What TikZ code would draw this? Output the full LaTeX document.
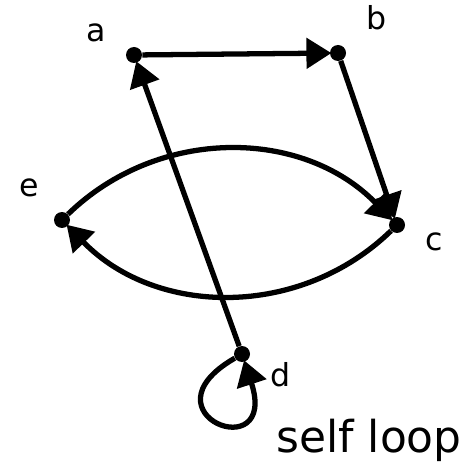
\documentclass[tikz,border=0pt]{standalone}
\usepackage{fontspec}
\setmainfont{DejaVu Sans}
\usetikzlibrary{positioning, arrows.meta}

\tikzset{
  vert/.style={circle, fill=black, inner sep=0pt, minimum size=3.2mm},
  lbl/.style={font=\fontsize{18}{21}\selectfont, inner sep=1pt},
  edge/.style={-{Triangle[length=5mm, width=6mm]}, line width=3pt, shorten >=-1pt}
}

\begin{document}
\begin{tikzpicture}[x=0.02cm, y=-0.02cm]
      \useasboundingbox (0,0) rectangle (466,469);
      % vertices
      \node[vert] (a) at (134,55) {};
      \node[vert] (b) at (338,53) {};
      \node[vert] (c) at (397,225) {};
      \node[vert] (e) at (62,220) {};
      \node[vert] (d) at (242,354) {};
      % names
      \node[lbl, above left=1mm and 4mm of a] (la) {a};
      \node[lbl, above right=3mm and 4mm of b] (lb) {b};
      \node[lbl, below right=0mm and 4mm of c] (lc) {c};
      \node[lbl, above left=3mm and 3mm of e] (le) {e};
      \node[lbl, below right=0mm and 4mm of d] (ld) {d};
      % edges
      \draw[edge] (a) -- (b);
      \draw[edge] (b) -- (c);
      \draw[edge] (d) -- (a);
      \draw[edge] (e) to[bend left=45] (c);
      \draw[edge] (c) to[bend left=45] (e);
      \draw[edge] (d) .. controls +(210:2.4cm) and +(-72:2.4cm) .. (d);
      \node[font=\fontsize{25}{28}\selectfont, anchor=center] (loop) at (369,440) {self loop};
\end{tikzpicture}
\end{document}
